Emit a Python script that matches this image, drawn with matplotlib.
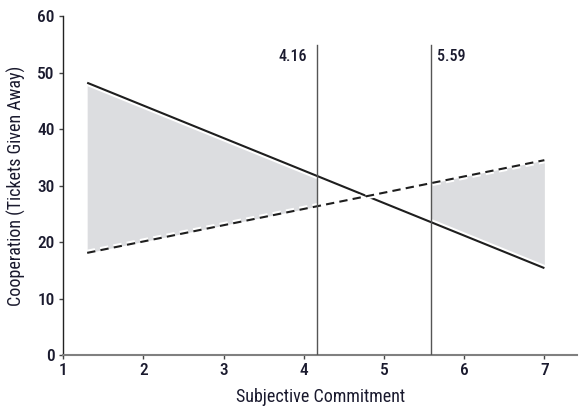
import matplotlib
matplotlib.use("Agg")
import matplotlib.pyplot as plt
import matplotlib.patheffects as pe
import numpy as np

plt.rcParams['font.family'] = ['Roboto Condensed', 'Liberation Sans', 'DejaVu Sans']

# endpoints of the two regression lines (commitment, tickets given away)
x_ends = [1.3, 7.0]
solid_y = [48.2, 15.4]
dashed_y = [18.1, 34.5]

# regions of significance boundaries
cut_low = 4.16
cut_high = 5.59

fig = plt.figure(figsize=(5.79, 4.12), dpi=100)
ax = fig.add_axes([0.109, 0.138, 0.888, 0.823])

def line_at(x, ys):
    return np.interp(x, x_ends, ys)

shade = '#dcdde0'
xl = np.linspace(x_ends[0], cut_low, 50)
ax.fill_between(xl, line_at(xl, dashed_y), line_at(xl, solid_y), color=shade, lw=0, zorder=1)
xr = np.linspace(cut_high, x_ends[1], 50)
ax.fill_between(xr, line_at(xr, solid_y), line_at(xr, dashed_y), color=shade, lw=0, zorder=1)

halo = [pe.Stroke(linewidth=4.5, foreground='white'), pe.Normal()]
ax.plot(x_ends, solid_y, color='#1e1e1e', lw=1.5, zorder=3, path_effects=halo,
        solid_capstyle='butt')
ax.plot(x_ends, dashed_y, color='#1e1e1e', lw=1.5, zorder=3, dashes=(4, 2.5),
        path_effects=halo)

for xv, lab, ha, dx in [(cut_low, '4.16', 'right', -0.12), (cut_high, '5.59', 'left', 0.07)]:
    ax.plot([xv, xv], [0, 54.8], color='#555555', lw=1.0, zorder=4)
    ax.text(xv + dx, 52.8, lab, ha=ha, va='center', fontsize=11.5, fontweight='medium',
            color='#1a1a2e')

ax.set_xlim(1, 7.41)
ax.set_ylim(0, 60)
ax.set_xticks([1, 2, 3, 4, 5, 6, 7])
ax.set_yticks([0, 10, 20, 30, 40, 50, 60])
ax.spines['top'].set_visible(False)
ax.spines['right'].set_visible(False)
ax.spines['left'].set_color('#222222')
ax.spines['bottom'].set_color('#808080')
ax.spines['left'].set_linewidth(1.0)
ax.spines['bottom'].set_linewidth(1.5)
ax.tick_params(direction='out', length=3, width=1, color='#444444',
               labelsize=12.5, labelcolor='#1a1a2e', pad=3)
for lab in ax.get_xticklabels() + ax.get_yticklabels():
    lab.set_fontweight('medium')
ax.set_xlabel('Subjective Commitment', fontsize=13, color='#1a1a2e', labelpad=7)
ax.set_ylabel('Cooperation (Tickets Given Away)', fontsize=13, color='#1a1a2e', labelpad=8)

fig.savefig('out.png', dpi=100)
